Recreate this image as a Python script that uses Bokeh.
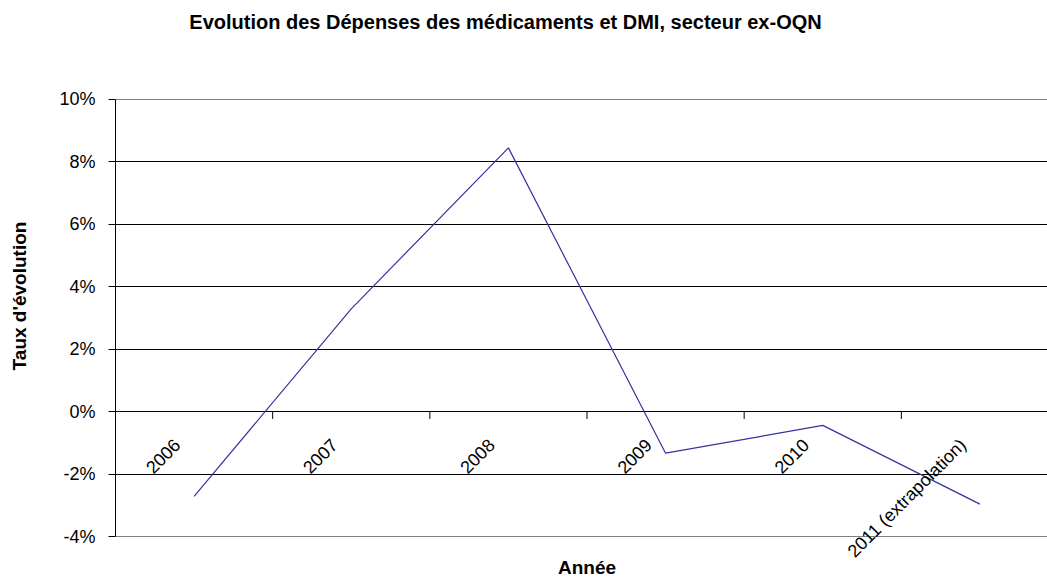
import math
from bokeh.plotting import figure
from bokeh.models import Range1d, FixedTicker, NumeralTickFormatter, ColumnDataSource, Grid
from bokeh.core.properties import value
from bokeh.embed import file_html
from bokeh.resources import INLINE

# ---- data ----
years = ["2006", "2007", "2008", "2009", "2010", "2011 (extrapolation)"]
rates = [-0.027, 0.033, 0.0845, -0.0132, -0.0043, -0.0295]
y_ticks = [-0.04, -0.02, 0.0, 0.02, 0.04, 0.06, 0.08, 0.10]

title_text = "Evolution des Dépenses des médicaments et DMI, secteur ex-OQN"
x_title = "Année"
y_title = "Taux d'évolution"

FONT = "Liberation Sans"

n = len(years)
xs = [i + 0.5 for i in range(n)]
src = ColumnDataSource(dict(x=xs, y=rates, zero=[0.0] * n, label=years))
bounds = list(range(1, n))

# the frame spans (almost) the whole canvas so that texts outside the
# -4%..10% area (title, rotated labels, x title) are not clipped
p = figure(width=1047, height=583,
           x_range=Range1d(0, 5.93), y_range=Range1d(-0.0549, 0.1291),
           output_backend="svg", toolbar_location=None, x_axis_location=None,
           min_border_left=115, min_border_right=0, min_border_top=8, min_border_bottom=0)
p.background_fill_color = "white"
p.border_fill_color = "white"
p.outline_line_color = None

# grid
p.xgrid.visible = False
p.ygrid.ticker = FixedTicker(ticks=y_ticks[1:-1])
p.ygrid.grid_line_color = "black"
p.ygrid.grid_line_width = 1
p.add_layout(Grid(dimension=1, ticker=FixedTicker(ticks=[y_ticks[0], y_ticks[-1]]),
                  grid_line_color="#808080", grid_line_width=1))

# y axis
ya = p.yaxis[0]
ya.bounds = (y_ticks[0], y_ticks[-1])
ya.ticker = FixedTicker(ticks=y_ticks)
ya.formatter = NumeralTickFormatter(format="0%")
ya.axis_line_color = "black"
ya.major_tick_line_color = "black"
ya.major_tick_out = 7
ya.major_tick_in = 0
ya.minor_tick_line_color = None
ya.major_label_standoff = 13
ya.major_label_text_font = FONT
ya.major_label_text_font_size = "18px"
ya.major_label_text_color = "black"
ya.axis_label = y_title
ya.axis_label_text_font = FONT
ya.axis_label_text_font_style = "bold"
ya.axis_label_text_font_size = "19px"
ya.axis_label_text_color = "black"
ya.axis_label_standoff = 26

# category tick marks hanging below the 0 line
p.ray(x=bounds, y=[0.0] * len(bounds), length=7, length_units="screen",
      angle=-math.pi / 2, line_color="black", line_width=1)

# line
p.line("x", "y", source=src, line_color="#3333a0", line_width=1.2)

# category labels rotated
p.text("x", "zero", text="label", source=src, angle=math.pi / 4,
       text_align="right", text_baseline="middle", x_offset=-17, y_offset=30,
       text_font=value(FONT), text_font_size="18px", text_color="black")

# chart title
p.text(x=[0], y=[y_ticks[-1]], text=[title_text], text_align="center",
       text_baseline="alphabetic", x_offset=390, y_offset=-77,
       text_font=value(FONT), text_font_style="bold", text_font_size="20px", text_color="black")

# x axis title
p.text(x=[n / 2], y=[y_ticks[0]], text=[x_title], text_align="center",
       text_baseline="alphabetic", y_offset=31,
       text_font=value(FONT), text_font_style="bold", text_font_size="19px", text_color="black")

open("out.html", "w").write(file_html(p, INLINE))
